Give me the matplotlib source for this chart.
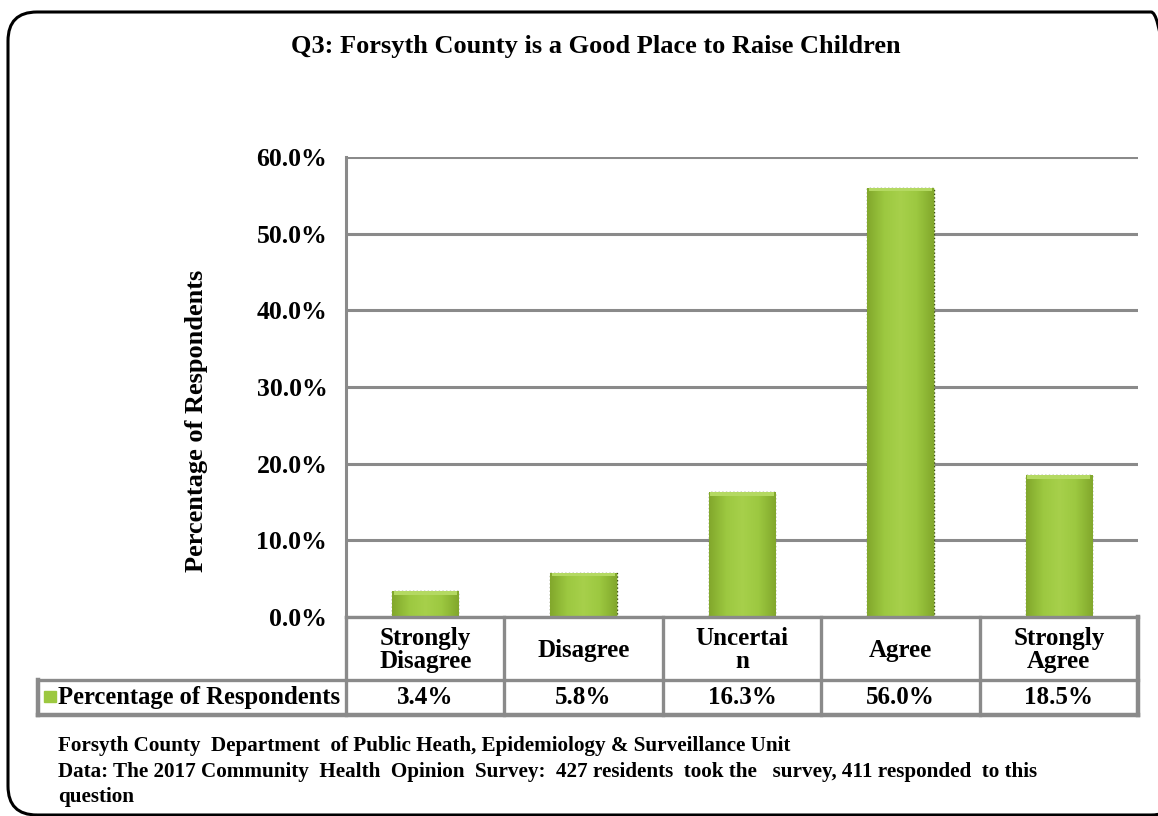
import matplotlib
matplotlib.use('Agg')
import matplotlib.pyplot as plt
import numpy as np
from matplotlib.patches import FancyBboxPatch, Rectangle
from matplotlib.colors import LinearSegmentedColormap

# Survey responses
categories = ['Strongly\nDisagree', 'Disagree', 'Uncertai\nn', 'Agree', 'Strongly\nAgree']
percentages = [3.4, 5.8, 16.3, 56.0, 18.5]
series_name = 'Percentage of Respondents'
title = 'Q3: Forsyth County is a Good Place to Raise Children'
footer = ['Forsyth County  Department  of Public Heath, Epidemiology & Surveillance Unit',
          'Data: The 2017 Community  Health  Opinion  Survey:  427 residents  took the   survey, 411 responded  to this',
          'question']

plt.rcParams['font.family'] = ['Liberation Serif', 'DejaVu Serif']
plt.rcParams['font.weight'] = 'bold'

W, H = 1158, 816
fig = plt.figure(figsize=(W / 100, H / 100), dpi=100)
fig.patch.set_facecolor('white')

# rounded outer frame
frame = FancyBboxPatch((8 / W, 1 - 815 / H), (1180 - 8) / W, (815 - 12) / H,
                       boxstyle='round,pad=0,rounding_size=0.025',
                       transform=fig.transFigure, fill=False,
                       edgecolor='black', linewidth=2.2, mutation_aspect=W / H)
fig.patches.append(frame)

grid_col = '#8a8a8a'
fs_tab = 18

# main plot area
ax = fig.add_axes([346 / W, 1 - 617 / H, (1138 - 346) / W, (617 - 157) / H])
x = np.arange(len(percentages))
vals = np.array(percentages) / 100
bw = 0.42
ticks = np.arange(0, 0.61, 0.1)
ax.set_yticks(ticks)
ax.set_yticklabels([f'{t * 100:.1f}%' for t in ticks], fontsize=18.5, fontweight='bold')
ax.tick_params(axis='y', length=0, pad=13.5)
ax.set_xticks([])
for s in ['top', 'right', 'bottom']:
    ax.spines[s].set_visible(False)
ax.spines['left'].set_color(grid_col)
ax.spines['left'].set_linewidth(2.2)
ax.yaxis.grid(True, color=grid_col, linewidth=2.2)
ax.set_axisbelow(True)

# green bars with a soft shaded fill
green = LinearSegmentedColormap.from_list('g', ['#82a82c', '#9cc840', '#a7d04b', '#9cc840', '#82a82c'])
grad = np.tile(np.linspace(0, 1, 64), (32, 1))
bars = ax.bar(x, vals, width=bw, color='#9cc840', edgecolor='#3a4a10',
              linestyle=':', linewidth=1.0, zorder=3)
for b in bars:
    im = ax.imshow(grad, cmap=green, extent=[b.get_x(), b.get_x() + b.get_width(), 0, b.get_height()],
                   aspect='auto', zorder=3.5, interpolation='bicubic')
    im.set_clip_path(b)
    top = Rectangle((b.get_x() + 0.01, b.get_height() - 0.005), b.get_width() - 0.02, 0.005,
                    color='#b4d962', zorder=3.6, linewidth=0)
    ax.add_patch(top)
ax.set_xlim(-0.5, len(percentages) - 0.5)
ax.set_ylim(0, 0.6)

# y axis title
fig.text(197 / W, 1 - 421 / H, series_name, rotation=90, ha='center', va='center',
         fontsize=19, fontweight='bold')

fig.text(596 / W, 1 - 46 / H, title, ha='center', va='center', fontsize=19, fontweight='bold')

# data table under the plot
tax = fig.add_axes([38 / W, 1 - 715 / H, (1138 - 38) / W, (715 - 617) / H])
left = -0.5 - (346 - 38) / ((1138 - 346) / len(percentages))
tax.set_xlim(left, len(percentages) - 0.5)
tax.set_ylim(0, 98)
tax.axis('off')
lw = 2.4
tax.plot([-0.5, len(percentages) - 0.5], [98, 98], color=grid_col, lw=lw, clip_on=False)
tax.plot([left, len(percentages) - 0.5], [35, 35], color=grid_col, lw=lw, clip_on=False)
tax.plot([left, len(percentages) - 0.5], [0, 0], color=grid_col, lw=lw + 0.8, clip_on=False)
tax.plot([left, left], [0, 35], color=grid_col, lw=lw + 0.8, clip_on=False)
for i in range(len(percentages) + 1):
    xi = i - 0.5
    tax.plot([xi, xi], [0, 98], color=grid_col, lw=lw + (0.8 if i == len(percentages) else 0), clip_on=False)
for i, (c, v) in enumerate(zip(categories, percentages)):
    tax.text(i, 65, c, ha='center', va='center', fontsize=fs_tab, fontweight='bold', linespacing=1.0)
    tax.text(i, 17.5, f'{v:.1f}%', ha='center', va='center', fontsize=fs_tab, fontweight='bold')
tax.add_patch(Rectangle((left + 0.035, 13), 0.08, 11, color='#9cc840', clip_on=False))
tax.text(left + 0.125, 17.5, series_name, ha='left', va='center', fontsize=fs_tab - 0.3, fontweight='bold')

# source notes
for k, line in enumerate(footer):
    fig.text(58 / W, 1 - (746 + 25.5 * k) / H, line, ha='left', va='center', fontsize=15.2, fontweight='bold')

fig.savefig('out.png', dpi=100)
plt.close(fig)
